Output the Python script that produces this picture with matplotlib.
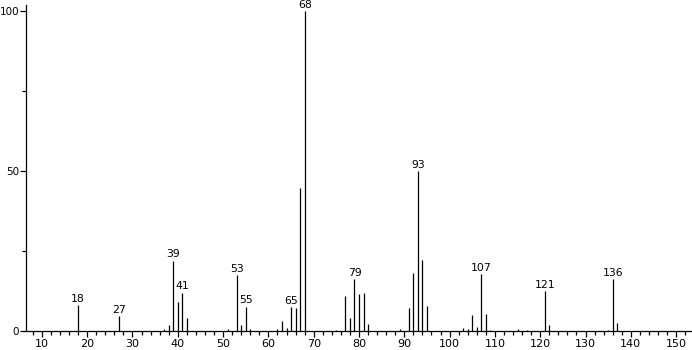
import matplotlib
matplotlib.use("Agg")
import matplotlib.pyplot as plt
from matplotlib.ticker import MultipleLocator

# m/z values and relative intensities
mz = [18, 27, 37, 38, 39, 40, 41, 42, 51, 53, 54, 55, 56, 62, 63, 64, 65, 66, 67, 68,
      75, 77, 78, 79, 80, 81, 82, 89, 91, 92, 93, 94, 95, 103, 104, 105, 106, 107, 108,
      109, 115, 117, 121, 122, 135, 136, 137]
intensity = [8.1, 4.7, 0.5, 1.8, 22.0, 9.0, 12.0, 4.2, 0.5, 17.5, 2.0, 7.6, 0.5, 0.6, 3.0,
             0.8, 7.5, 7.2, 44.7, 100.0, 0.4, 11.0, 4.2, 16.2, 11.6, 12.0, 2.2, 0.6, 7.3,
             18.0, 50.0, 22.2, 7.8, 1.0, 0.5, 5.0, 1.4, 17.8, 5.3, 0.3, 0.6, 0.3, 12.4,
             2.0, 0.4, 16.2, 2.6]
# peaks that carry a label
labelled = [18, 27, 39, 41, 53, 55, 65, 68, 79, 93, 107, 121, 136]

W, H = 692, 350
fig = plt.figure(figsize=(W / 100, H / 100), dpi=100)
ax = fig.add_axes([26 / W, (H - 331) / H, (W - 26) / W, (331 - 5) / H])

ax.vlines(mz, 0, intensity, colors="black", linewidth=0.9)
for m, v in zip(mz, intensity):
    if m in labelled:
        ax.annotate(str(m), (m, v), xytext=(0, 1), textcoords="offset points",
                    ha="center", va="bottom", fontsize=7.8, annotation_clip=False)

ax.set_xlim(6.5, 153.5)
ax.set_ylim(0, 101.9)
ax.spines["top"].set_visible(False)
ax.spines["right"].set_visible(False)
ax.spines["left"].set_linewidth(0.9)
ax.spines["bottom"].set_linewidth(0.9)

ax.xaxis.set_major_locator(MultipleLocator(10))
ax.xaxis.set_minor_locator(MultipleLocator(2))
ax.yaxis.set_major_locator(MultipleLocator(50))
ax.yaxis.set_minor_locator(MultipleLocator(25))
ax.tick_params(axis="x", which="major", direction="out", length=4, width=0.9,
               labelsize=8, pad=1.5)
ax.tick_params(axis="y", which="major", direction="out", length=4, width=0.9,
               labelsize=7.5, pad=1)
ax.tick_params(axis="both", which="minor", direction="out", length=3, width=0.9)

fig.savefig("out.png", dpi=100)
